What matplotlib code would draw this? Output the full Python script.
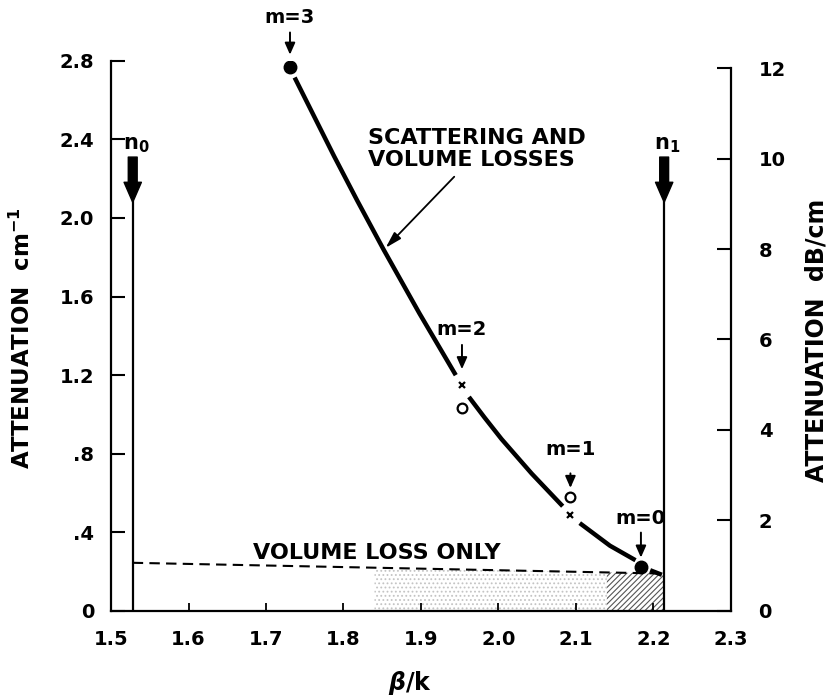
import numpy as np
import matplotlib
matplotlib.use("Agg")
from matplotlib import pyplot as plt

# ------------------------------------------------------------
# Data
# ------------------------------------------------------------

# scattering + volume loss curve, NaN breaks where the marks sit
beta_curve = [1.737, 1.788, 1.818, 1.852, 1.898, 1.945, np.nan,
              1.962, 1.982, 2.004, 2.043, 2.083, np.nan,
              2.105, 2.144, 2.177, np.nan,
              2.196, 2.211]
att_curve = [2.715, 2.314, 2.087, 1.838, 1.515, 1.200, np.nan,
             1.089, 0.985, 0.875, 0.699, 0.533, np.nan,
             0.447, 0.332, 0.258, np.nan,
             0.207, 0.184]

# filled dots (m = 3, m = 0)
dot_beta = [1.731, 2.184]
dot_att = [2.771, 0.222]
# open circles (m = 2, m = 1)
open_beta = [1.953, 2.093]
open_att = [1.031, 0.580]
# crosses (m = 2, m = 1)
cross_beta = [1.953, 2.093]
cross_att = [1.149, 0.487]

mode_labels = ["m=3", "m=2", "m=1", "m=0"]
mode_beta = [1.731, 1.953, 2.093, 2.184]
mode_att = [2.771, 1.149, 0.580, 0.222]

# substrate / film indices
n0 = 1.528
n1 = 2.214

# volume loss only (dashed)
vol_beta = [n0, n1]
vol_att = [0.245, 0.190]

# shaded parts under the dashed line
stipple_beta = [1.84, 2.14]
hatch_beta = [2.14, n1]

x_ticks = [1.5, 1.6, 1.7, 1.8, 1.9, 2.0, 2.1, 2.2, 2.3]
x_tick_labels = ["1.5", "1.6", "1.7", "1.8", "1.9", "2.0", "2.1", "2.2", "2.3"]
y_ticks = [0, 0.4, 0.8, 1.2, 1.6, 2.0, 2.4, 2.8]
y_tick_labels = ["0", ".4", ".8", "1.2", "1.6", "2.0", "2.4", "2.8"]
db_ticks = [0, 2, 4, 6, 8, 10, 12]
db_tick_labels = ["0", "2", "4", "6", "8", "10", "12"]

DB_PER_INV_CM = 10 * np.log10(np.e)

# ------------------------------------------------------------
# Figure
# ------------------------------------------------------------
plt.rcParams.update({
    "font.family": "DejaVu Sans",
    "font.weight": "bold",
    "hatch.linewidth": 0.8,
})

fig = plt.figure(figsize=(8.33, 6.99), dpi=100)
ax = fig.add_axes([0.1333, 0.126, 0.744, 0.787])

ax.set_xlim(1.5, 2.3)
ax.set_ylim(0, 2.8)

# main curve
ax.plot(beta_curve, att_curve, color="black", lw=3.2, solid_capstyle="butt")

# volume loss only
ax.plot(vol_beta, vol_att, color="black", lw=1.5, ls=(0, (5, 3)))

# shading under the dashed line
st_top = np.interp(stipple_beta, vol_beta, vol_att)
ax.fill_between(stipple_beta, 0, st_top, facecolor="none",
                edgecolor="#c4c4c4", hatch="....", lw=0)
ha_top = np.interp(hatch_beta, vol_beta, vol_att)
ax.fill_between(hatch_beta, 0, ha_top, facecolor="none",
                edgecolor="#555555", hatch="//////", lw=0)

# markers
ax.plot(dot_beta, dot_att, "o", color="black", ms=9, zorder=5)
ax.plot(open_beta, open_att, "o", mfc="white", mec="black", ms=7, mew=1.6, zorder=5)
ax.plot(cross_beta, cross_att, "x", color="black", ms=5, mew=1.6, zorder=5)

# mode labels with short arrows (offsets in points above the mark)
arrow_tip = [8.5, 11.5, 6.5, 7.0]
arrow_tail = [24.5, 29.0, 17.0, 25.0]
text_off = [35.0, 40.0, 34.5, 35.0]
for lab, b, a, tip, tail, off in zip(mode_labels, mode_beta, mode_att,
                                     arrow_tip, arrow_tail, text_off):
    ax.annotate("", xy=(b, a), xycoords="data",
                xytext=(0, tail), textcoords="offset points",
                arrowprops=dict(arrowstyle="-|>,head_length=0.5,head_width=0.22",
                                color="black", lw=1.4, mutation_scale=14,
                                shrinkA=0, shrinkB=tip),
                annotation_clip=False)
    ax.annotate(lab, xy=(b, a), xytext=(0, off), textcoords="offset points",
                ha="center", va="center", fontsize=14, fontweight="bold",
                annotation_clip=False)

# n0 / n1 boundaries with heavy arrows
for n_val, n_lab in [(n0, r"n$_\mathbf{0}$"), (n1, r"n$_\mathbf{1}$")]:
    ax.plot([n_val, n_val], [0, 2.08], color="black", lw=1.6)
    ax.annotate("", xy=(n_val, 2.08), xytext=(n_val, 2.31),
                arrowprops=dict(arrowstyle="simple,head_length=0.9,head_width=0.78,tail_width=0.4",
                                color="black", mutation_scale=16,
                                shrinkA=0, shrinkB=0))
    ax.text(n_val + 0.004, 2.37, n_lab, ha="center", va="center",
            fontsize=15, fontweight="bold")

# text labels
ax.text(1.832, 2.352, "SCATTERING AND\nVOLUME LOSSES", ha="left", va="center",
        fontsize=16, fontweight="bold", linespacing=1.15)
ax.annotate("", xy=(1.852, 1.838), xytext=(1.943, 2.21),
            arrowprops=dict(arrowstyle="-|>,head_length=0.7,head_width=0.2",
                            color="black", lw=1.3, mutation_scale=14,
                            shrinkA=0, shrinkB=2))
ax.text(1.843, 0.293, "VOLUME LOSS ONLY", ha="center", va="center",
        fontsize=16, fontweight="bold")

# axes styling
for sp in ("top", "right"):
    ax.spines[sp].set_visible(False)
ax.spines["left"].set_linewidth(1.6)
ax.spines["bottom"].set_linewidth(1.6)

ax.set_xticks(x_ticks)
ax.set_xticklabels(x_tick_labels, fontsize=14, fontweight="bold")
ax.set_yticks(y_ticks)
ax.set_yticklabels(y_tick_labels, fontsize=14, fontweight="bold")
ax.tick_params(axis="x", direction="in", length=6, width=1.3, pad=14)
ax.tick_params(axis="y", direction="in", length=10, width=1.5, pad=12)

ax.set_xlabel(r"$\boldsymbol{\beta}$/k", fontsize=17, fontweight="bold")
ax.xaxis.set_label_coords(0.482, -0.105)
ax.set_ylabel(r"ATTENUATION  cm$^{\mathbf{-1}}$", fontsize=16.5, fontweight="bold")
ax.yaxis.set_label_coords(-0.123, 0.495)

# right axis in dB/cm
ax2 = ax.twinx()
ax2.set_ylim(0, 2.8 * DB_PER_INV_CM)
for sp in ("top", "left", "bottom"):
    ax2.spines[sp].set_visible(False)
ax2.spines["right"].set_linewidth(1.6)
ax2.spines["right"].set_bounds(0, 12)
ax2.set_yticks(db_ticks)
ax2.set_yticklabels(db_tick_labels, fontsize=14, fontweight="bold")
ax2.tick_params(axis="y", direction="in", length=10, width=1.5, pad=20)
ax2.set_ylabel("ATTENUATION  dB/cm", fontsize=17, fontweight="bold")
ax2.yaxis.set_label_coords(1.119, 0.492)

fig.savefig("out.png", dpi=100)
